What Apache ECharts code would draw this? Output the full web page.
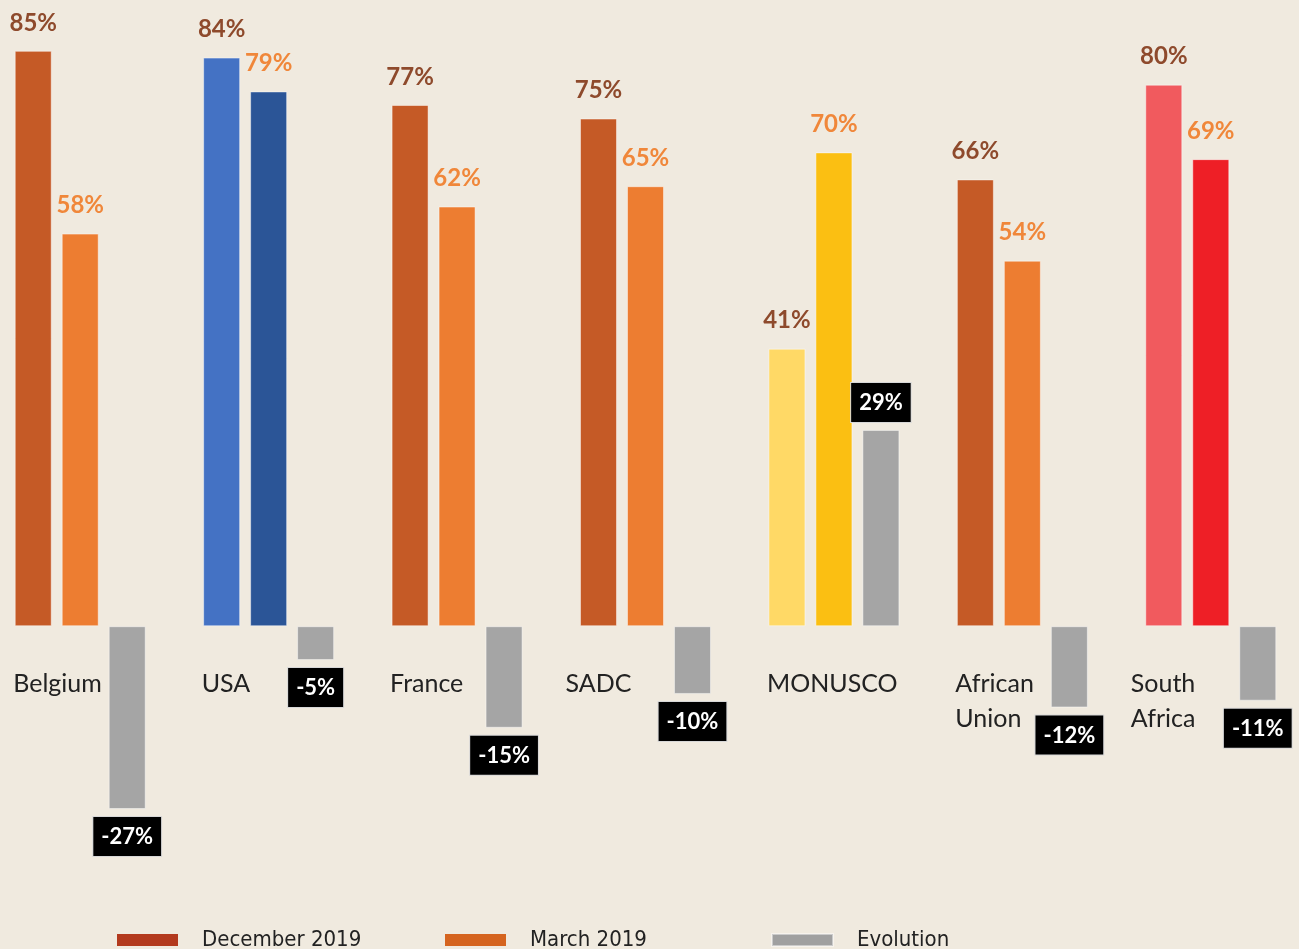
<!DOCTYPE html>
<html>
<head>
<meta charset="utf-8">
<script src="https://cdn.jsdelivr.net/npm/echarts@6/dist/echarts.min.js"></script>
<style>
  html, body { margin: 0; padding: 0; background: #f0eadf; }
  #chart { width: 1299px; height: 949px; }
</style>
</head>
<body>
<div id="chart"></div>
<script>
// values (percent)
const categories = ['Belgium', 'USA', 'France', 'SADC', 'MONUSCO', 'African\nUnion', 'South\nAfrica'];
const december2019 = [85, 84, 77, 75, 41, 66, 80];
const march2019 = [58, 79, 62, 65, 70, 54, 69];
const evolution = [-27, -5, -15, -10, 29, -12, -11];

// bar colours per category: [first bar, second bar]
const pairColors = [
  ['#c55a26', '#ed7d31'],
  ['#4472c4', '#2b5597'],
  ['#c55a26', '#ed7d31'],
  ['#c55a26', '#ed7d31'],
  ['#ffd966', '#fbbf12'],
  ['#c55a26', '#ed7d31'],
  ['#f15a5e', '#ee1f26']
];
// these two labels sit a bit further left in the original
const wideLabels = ['SADC', 'South\nAfrica'];

let chart = echarts.init(document.getElementById('chart'));

const barBorder = { borderColor: 'rgba(255,255,255,0.45)', borderWidth: 1 };
const valueFont = 'Lato, "Open Sans", sans-serif';
const catLabel = {
  align: 'left',
  fontFamily: 'Lato, "Noto Sans", sans-serif',
  fontSize: 25,
  lineHeight: 35,
  color: '#222'
};

function legendAt(left, name, color) {
  return {
    left: left,
    top: 923,
    itemWidth: 61,
    itemHeight: 12,
    icon: 'rect',
    selectedMode: false,
    data: [{ name: name, itemStyle: { color: color } }],
    textStyle: {
      fontFamily: '"Liberation Sans Narrow", "DejaVu Sans Condensed", sans-serif',
      fontSize: 22,
      color: '#222',
      lineHeight: 24,
      padding: [0, 0, 0, 19]
    }
  };
}

// grid: zero line sits at y ~626, the x axis is moved up to it
let option = {
  backgroundColor: '#f0eadf',
  animation: false,
  grid: { left: -14, right: -6, top: 17, height: 880, outerBoundsMode: 'none', containLabel: false },
  legend: [
    legendAt(112, 'December 2019', '#b33a1e'),
    legendAt(440, 'March 2019', '#d5641f'),
    legendAt(766, 'Evolution', '#a0a0a0')
  ],
  xAxis: {
    type: 'category',
    data: categories,
    position: 'bottom',
    offset: -271,
    axisLine: { show: false, onZero: false },
    axisTick: { show: false },
    axisLabel: {
      interval: 0,
      margin: 40,
      formatter: function (v) {
        let key = wideLabels.indexOf(v) >= 0 ? 'w' : 'l';
        return v.split('\n').map(function (s) { return '{' + key + '|' + s + '}'; }).join('\n');
      },
      rich: {
        l: Object.assign({ width: 134 }, catLabel),
        w: Object.assign({ width: 160 }, catLabel)
      }
    }
  },
  yAxis: {
    type: 'value',
    min: -40,
    max: 90,
    show: false,
    splitLine: { show: false }
  },
  series: [
    {
      name: 'December 2019',
      type: 'bar',
      barWidth: 37,
      barGap: '27%',
      data: december2019.map(function (v, i) {
        return { value: v, itemStyle: Object.assign({ color: pairColors[i][0] }, barBorder) };
      }),
      label: {
        show: true,
        position: 'top',
        distance: 16,
        formatter: '{c}%',
        fontFamily: valueFont,
        fontWeight: 'bold',
        fontSize: 24,
        color: '#8e4a2c'
      }
    },
    {
      name: 'March 2019',
      type: 'bar',
      barWidth: 37,
      barGap: '27%',
      data: march2019.map(function (v, i) {
        return { value: v, itemStyle: Object.assign({ color: pairColors[i][1] }, barBorder) };
      }),
      label: {
        show: true,
        position: 'top',
        distance: 16,
        formatter: '{c}%',
        fontFamily: valueFont,
        fontWeight: 'bold',
        fontSize: 24,
        color: '#f0873a'
      }
    },
    {
      name: 'Evolution',
      type: 'bar',
      barWidth: 37,
      barGap: '27%',
      itemStyle: Object.assign({ color: '#a5a5a5' }, barBorder),
      data: evolution,
      label: {
        show: true,
        position: 'outside',
        distance: 8,
        formatter: '{c}%',
        fontFamily: valueFont,
        fontWeight: 'bold',
        fontSize: 22,
        color: '#fff',
        backgroundColor: '#000',
        borderColor: '#d8d8d8',
        borderWidth: 1,
        padding: [9, 8, 8, 8]
      }
    }
  ]
};

chart.setOption(option);
</script>
</body>
</html>
